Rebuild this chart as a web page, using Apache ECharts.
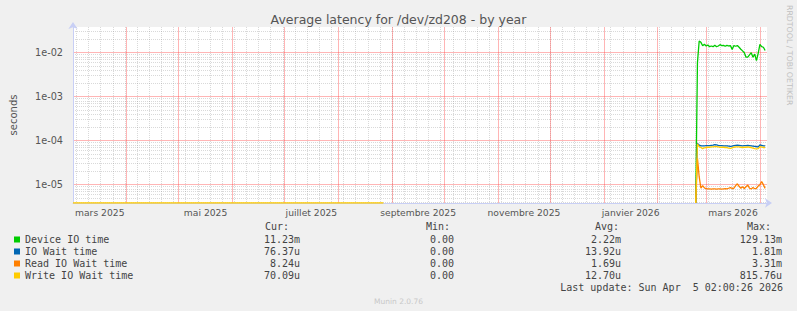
<!DOCTYPE html>
<html>
<head>
<meta charset="utf-8">
<script src="https://cdn.jsdelivr.net/npm/echarts@6/dist/echarts.min.js"></script>
<style>
  html, body { margin: 0; padding: 0; background: #f0f0f0; }
  #chart { width: 797px; height: 311px; }
</style>
</head>
<body>
<div id="chart"></div>
<script>
// ---- data ----
const seriesNames = ['Device IO time', 'IO Wait time', 'Read IO Wait time', 'Write IO Wait time'];
const seriesColors = ['#00CC00', '#0066B3', '#FF8000', '#FFCC00'];

// daily values from 2026-02-23 on, in seconds
const recentStart = Date.UTC(2026, 1, 23);
const deviceIO = [0, 6.0e-3, 1.85e-2, 1.72e-2, 1.44e-2, 1.55e-2, 1.42e-2, 1.50e-2, 1.37e-2, 1.42e-2,
  1.37e-2, 1.47e-2, 1.37e-2, 1.42e-2, 1.52e-2, 1.45e-2, 1.47e-2, 1.40e-2, 1.47e-2, 1.42e-2,
  1.45e-2, 1.19e-2, 1.45e-2, 1.40e-2, 1.45e-2, 1.33e-2, 1.20e-2, 1.10e-2, 1.00e-2, 7.9e-3,
  7.9e-3, 8.9e-3, 1.00e-2, 7.9e-3, 9.3e-3, 6.6e-3, 9.7e-3, 1.55e-2, 1.37e-2, 1.33e-2, 1.123e-2];
const ioWait = [0, 8.7e-5, 7.9e-5, 7.6e-5, 7.6e-5, 7.6e-5, 7.7e-5, 7.7e-5, 7.7e-5, 7.8e-5,
  7.9e-5, 8.1e-5, 8.0e-5, 7.8e-5, 7.7e-5, 7.7e-5, 7.6e-5, 7.6e-5, 7.6e-5, 7.5e-5,
  7.4e-5, 7.5e-5, 7.7e-5, 7.8e-5, 7.9e-5, 7.8e-5, 7.7e-5, 7.6e-5, 7.7e-5, 7.7e-5,
  7.8e-5, 7.7e-5, 7.6e-5, 7.5e-5, 7.4e-5, 7.3e-5, 7.2e-5, 8.0e-5, 7.8e-5, 7.6e-5, 7.637e-5];
const readWait = [0, 4.0e-5, 1.5e-5, 8.3e-6, 9.5e-6, 8.5e-6, 8.1e-6, 8.0e-6, 8.0e-6, 7.9e-6,
  8.0e-6, 8.0e-6, 7.9e-6, 8.0e-6, 8.0e-6, 7.9e-6, 8.0e-6, 8.1e-6, 8.0e-6, 8.3e-6,
  8.6e-6, 8.2e-6, 8.3e-6, 9.5e-6, 1.05e-5, 9.2e-6, 8.3e-6, 9.0e-6, 8.2e-6, 9.0e-6,
  9.8e-6, 8.3e-6, 8.0e-6, 8.6e-6, 8.1e-6, 8.3e-6, 9.3e-6, 1.0e-5, 1.17e-5, 1.0e-5, 8.24e-6];
const writeWait = [0, 8.5e-5, 7.3e-5, 7.0e-5, 6.6e-5, 6.9e-5, 7.0e-5, 7.1e-5, 7.1e-5, 7.2e-5,
  7.2e-5, 7.3e-5, 7.3e-5, 7.2e-5, 7.1e-5, 7.1e-5, 7.1e-5, 7.0e-5, 7.0e-5, 6.8e-5,
  6.7e-5, 6.9e-5, 7.1e-5, 7.2e-5, 7.2e-5, 7.2e-5, 7.1e-5, 7.0e-5, 7.1e-5, 7.1e-5,
  7.2e-5, 7.1e-5, 7.0e-5, 6.8e-5, 6.6e-5, 6.5e-5, 6.6e-5, 7.3e-5, 7.2e-5, 7.0e-5, 7.009e-5];
// early span where the write series sits at 0 (only the top-drawn series shows there)
const zeroSpan = [Date.UTC(2025, 2, 1, 2), Date.UTC(2025, 7, 27)];

const curVals = ['11.23m', '76.37u', '8.24u', '70.09u'];
const minVals = ['0.00', '0.00', '0.00', '0.00'];
const avgVals = ['2.22m', '13.92u', '1.69u', '12.70u'];
const maxVals = ['129.13m', '1.81m', '3.31m', '815.76u'];

const monthNames = ['janvier', 'février', 'mars', 'avril', 'mai', 'juin', 'juillet',
  'août', 'septembre', 'octobre', 'novembre', 'décembre'];
const labelMonths = [[2025, 2], [2025, 4], [2025, 6], [2025, 8], [2025, 10], [2026, 0], [2026, 2]];
const yDecades = [-5, -4, -3, -2];

// ---- axes ranges ----
const DAY = 86400000;
const xMin = Date.UTC(2025, 2, 1, 2);
const xMax = Date.UTC(2026, 3, 5, 2);
const logMin = -5.416, logMax = -1.416;
const yMin = Math.pow(10, logMin), yMax = Math.pow(10, logMax);

// grid helper values
const monthStarts = [];
for (let y = 2025, m = 2; Date.UTC(y, m, 1) <= xMax; m++) {
  if (m > 11) { m = 0; y++; }
  monthStarts.push(Date.UTC(y, m, 1));
}
const mondays = [];
for (let t = Date.UTC(2025, 2, 3); t <= xMax; t += 7 * DAY) mondays.push(t);
const labelPos = new Map();
labelMonths.forEach(([y, m]) => {
  const mid = (Date.UTC(y, m, 1) + Date.UTC(y, m + 1, 1)) / 2;
  labelPos.set(mid, monthNames[m] + ' ' + y);
});
const minorLogs = [];
for (let e = -6; e <= -2; e++) {
  for (let k = 2; k <= 9; k++) {
    const v = Math.log10(k) + e;
    if (v > logMin && v < logMax) minorLogs.push(v);
  }
}

function buildData(vals, withZeroSpan) {
  const d = withZeroSpan ? [[zeroSpan[0], yMin], [zeroSpan[1], yMin], [zeroSpan[1] + DAY, '-']] : [];
  vals.forEach((v, i) => {
    d.push([recentStart + i * DAY, v <= yMin ? yMin : v]);
  });
  return d;
}

const allVals = [deviceIO, ioWait, readWait, writeWait];
const mono = 'DejaVu Sans Mono';
const sans = 'DejaVu Sans';
const axisCol = '#c8cff5';
const majorGrid = { color: 'rgba(255,60,60,0.38)', width: 1, type: 'solid' };
const minorGrid = { color: 'rgba(140,140,140,0.33)', width: 1, type: [1, 1] };
const txt = { fontFamily: mono, fontSize: 10, color: '#444', lineHeight: 12 };

const chart = echarts.init(document.getElementById('chart'), null, { renderer: 'svg' });

const option = {
  animation: false,
  backgroundColor: '#f0f0f0',
  title: {
    text: 'Average latency for /dev/zd208 - by year',
    left: 'center',
    top: 8,
    textStyle: { fontFamily: sans, fontSize: 12.5, fontWeight: 'normal', color: '#555' }
  },
  grid: {
    left: 66, right: 30, top: 27, bottom: 108,
    show: true, backgroundColor: '#ffffff', borderWidth: 0
  },
  legend: {
    orient: 'vertical',
    left: 14, top: 233.5,
    padding: 0,
    itemGap: 0,
    itemWidth: 6, itemHeight: 6,
    icon: 'rect',
    selectedMode: false,
    data: seriesNames,
    formatter: name => {
      const i = seriesNames.indexOf(name);
      return '{n|' + name + '}{c|' + curVals[i] + '}{mi|' + minVals[i] + '}{a|' + avgVals[i] + '}{mx|' + maxVals[i] + '}';
    },
    textStyle: Object.assign({}, txt, {
      rich: {
        n: Object.assign({ width: 215 }, txt),
        c: Object.assign({ width: 60, align: 'right' }, txt),
        mi: Object.assign({ width: 154, align: 'right' }, txt),
        a: Object.assign({ width: 167, align: 'right' }, txt),
        mx: Object.assign({ width: 161, align: 'right' }, txt)
      }
    })
  },
  xAxis: [
    {
      // weekly minor grid
      type: 'value', min: xMin, max: xMax, position: 'bottom',
      axisLine: { show: false },
      axisTick: { show: false, customValues: mondays },
      axisLabel: { show: false },
      splitLine: { show: true, lineStyle: minorGrid }
    },
    {
      // month grid
      type: 'value', min: xMin, max: xMax, position: 'bottom',
      axisLine: { show: false },
      axisTick: { show: false, customValues: monthStarts },
      axisLabel: { show: false },
      splitLine: { show: true, lineStyle: majorGrid }
    },
    {
      // data axis with labels, drawn above the lines like rrdtool
      type: 'value', min: xMin, max: xMax, position: 'bottom', z: 3,
      axisLine: { show: true, lineStyle: { color: axisCol, width: 1 }, symbol: ['none', 'arrow'], symbolSize: [7, 7], symbolOffset: [0, 5] },
      axisTick: { show: false },
      splitLine: { show: false },
      axisLabel: {
        customValues: Array.from(labelPos.keys()),
        formatter: v => labelPos.get(v) || '',
        fontFamily: sans, fontSize: 9.2, color: '#555', margin: 5
      }
    }
  ],
  yAxis: [
    {
      type: 'log', logBase: 10, min: yMin, max: yMax, z: 3,
      axisLine: { show: true, lineStyle: { color: axisCol, width: 1 }, symbol: ['none', 'arrow'], symbolSize: [7, 7], symbolOffset: [0, 5] },
      axisTick: { show: false },
      axisLabel: { show: false },
      splitLine: { show: false }
    },
    {
      type: 'value', min: logMin, max: logMax, position: 'left',
      axisLine: { show: false },
      axisTick: { show: false, customValues: minorLogs },
      axisLabel: { show: false },
      splitLine: { show: true, lineStyle: minorGrid }
    },
    {
      type: 'value', min: logMin, max: logMax, position: 'left',
      name: 'seconds', nameLocation: 'middle', nameRotate: 90, nameGap: 55,
      nameTextStyle: { fontFamily: sans, fontSize: 10, color: '#555' },
      axisLine: { show: false },
      axisTick: { show: false, customValues: yDecades },
      axisLabel: {
        customValues: yDecades,
        formatter: v => '1e' + (v < 0 ? '-' : '+') + String(Math.abs(Math.round(v))).padStart(2, '0'),
        fontFamily: sans, fontSize: 9.7, color: '#555', margin: 10
      },
      splitLine: { show: true, lineStyle: majorGrid }
    }
  ],
  series: seriesNames.map((name, i) => ({
    name: name,
    type: 'line',
    xAxisIndex: 2,
    yAxisIndex: 0,
    showSymbol: false,
    connectNulls: false,
    color: seriesColors[i],
    lineStyle: { width: 1.3, color: seriesColors[i] },
    data: buildData(allVals[i], i === seriesNames.length - 1)
  })),
  graphic: [
    { type: 'text', left: 265, top: 221, style: { text: 'Cur:', font: '10px ' + mono, fill: '#444' } },
    { type: 'text', left: 426, top: 221, style: { text: 'Min:', font: '10px ' + mono, fill: '#444' } },
    { type: 'text', left: 595, top: 221, style: { text: 'Avg:', font: '10px ' + mono, fill: '#444' } },
    { type: 'text', left: 747, top: 221, style: { text: 'Max:', font: '10px ' + mono, fill: '#444' } },
    { type: 'text', right: 14, top: 282, style: { text: 'Last update: Sun Apr \u00a05 02:00:26 2026', font: '10px ' + mono, fill: '#444' } },
    { type: 'text', left: 'center', top: 297, style: { text: 'Munin 2.0.76', font: '7.5px ' + sans, fill: '#c8c8c8' } },
    { type: 'text', x: 793, y: 5, rotation: -Math.PI / 2, style: { text: 'RRDTOOL / TOBI OETIKER', font: '7.8px ' + sans, fill: '#c0c0c0' } }
  ]
};

chart.setOption(option);
</script>
</body>
</html>
